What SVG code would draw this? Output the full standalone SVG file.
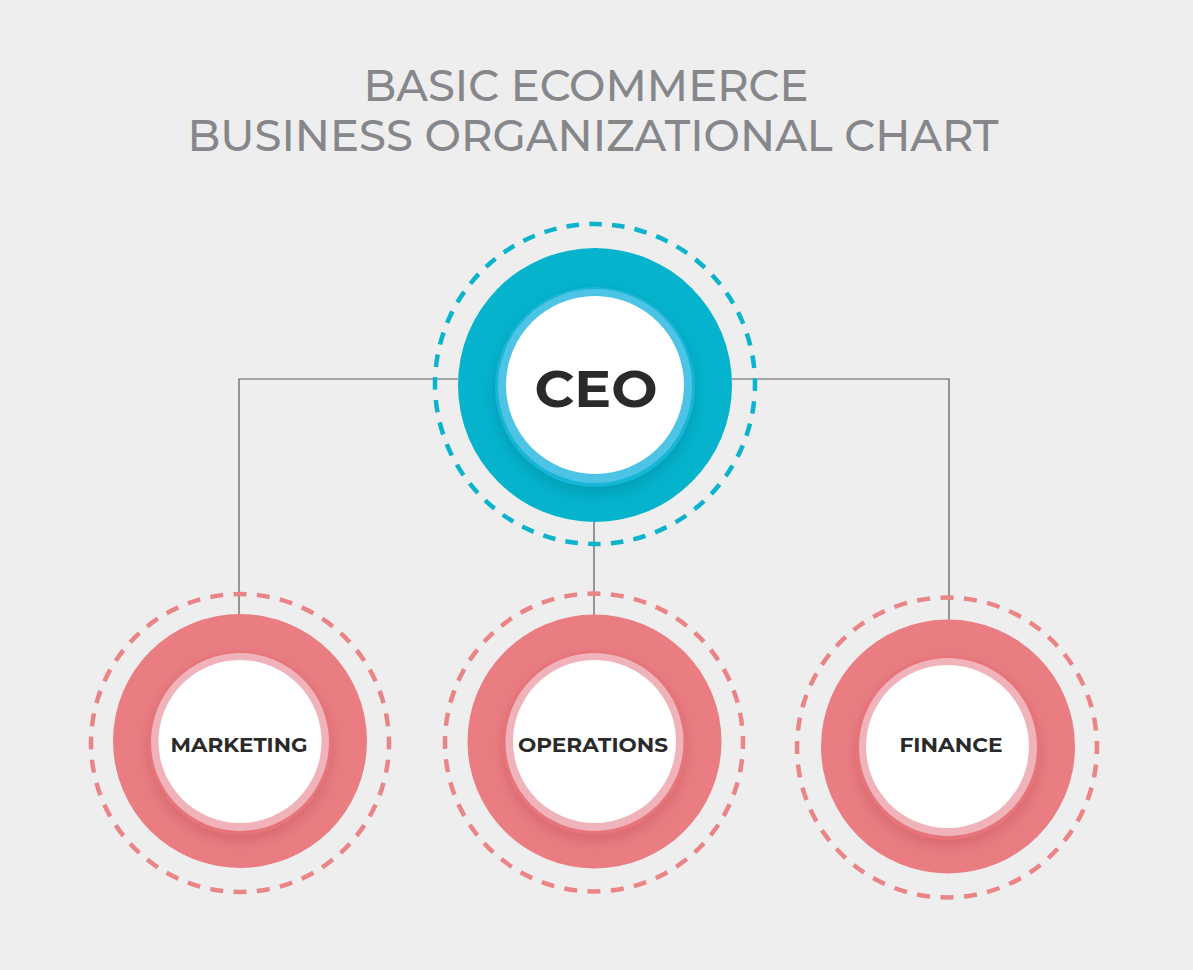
<svg xmlns="http://www.w3.org/2000/svg" width="1193" height="970" viewBox="0 0 1193 970">
<defs>
<style>
.title{font-family:"Montserrat","Open Sans","Liberation Sans",sans-serif;font-size:45px;font-weight:500;fill:#86878b;text-anchor:middle;}
.lbl{font-family:"Montserrat","Open Sans","Liberation Sans",sans-serif;font-weight:700;fill:#2a2a2a;text-anchor:middle;}
.conn{stroke:#5a5a5a;stroke-width:1.2;fill:none;}
.dashT{fill:none;stroke:#0cb3cc;stroke-width:4.5;}
.dashP{fill:none;stroke:#ea8486;stroke-width:4.5;}
</style>
<filter id="sh" x="-30%" y="-30%" width="160%" height="160%">
<feGaussianBlur stdDeviation="6"/>
</filter>
</defs>
<rect width="1193" height="970" fill="#eeeeee"/>
<g id="title">
<text class="title" x="586" y="101" textLength="445" lengthAdjust="spacingAndGlyphs">BASIC ECOMMERCE</text>
<text class="title" x="593" y="151" textLength="811" lengthAdjust="spacingAndGlyphs">BUSINESS ORGANIZATIONAL CHART</text>
</g>
<g id="connectors">
<path class="conn" d="M458 379 H239 V615"/>
<path class="conn" d="M732 379 H949 V620"/>
<path class="conn" d="M594 522 V615"/>
</g>
<g id="ceo">
<circle class="dashT" cx="595" cy="384" r="160" pathLength="360" stroke-dasharray="4.5 3.68" stroke-dashoffset="2"/>
<circle cx="595" cy="385" r="137" fill="#05b3cc"/>
<circle cx="595" cy="393" r="102" fill="#0091a8" opacity="0.55" filter="url(#sh)"/>
<circle cx="595" cy="387" r="100" fill="#18b6d6"/>
<circle cx="595" cy="386" r="97" fill="#4dc4e6"/>
<circle cx="595" cy="385" r="89" fill="#ffffff"/>
<text class="lbl" x="596" y="407" font-size="51" textLength="123" lengthAdjust="spacingAndGlyphs">CEO</text>
</g>
<g id="marketing">
<circle class="dashP" cx="240" cy="743" r="149" pathLength="360" stroke-dasharray="5 4" stroke-dashoffset="2.5"/>
<circle cx="240" cy="741" r="127" fill="#e97d82"/>
<circle cx="240" cy="749" r="93" fill="#c95a60" opacity="0.5" filter="url(#sh)"/>
<circle cx="240" cy="743" r="92" fill="#e6747a"/>
<circle cx="240" cy="742" r="89" fill="#f0b3ba"/>
<circle cx="240" cy="741.5" r="81.5" fill="#ffffff"/>
<text class="lbl" x="239" y="752" font-size="20" textLength="137" lengthAdjust="spacingAndGlyphs">MARKETING</text>
</g>
<g id="operations">
<circle class="dashP" cx="594" cy="742.5" r="149" pathLength="360" stroke-dasharray="5 4" stroke-dashoffset="2.5"/>
<circle cx="594.5" cy="741.5" r="127" fill="#e97d82"/>
<circle cx="594.5" cy="749" r="93" fill="#c95a60" opacity="0.5" filter="url(#sh)"/>
<circle cx="594.5" cy="743" r="92" fill="#e6747a"/>
<circle cx="594.5" cy="742" r="89" fill="#f0b3ba"/>
<circle cx="594.5" cy="741.5" r="81.5" fill="#ffffff"/>
<text class="lbl" x="593" y="752" font-size="20" textLength="150" lengthAdjust="spacingAndGlyphs">OPERATIONS</text>
</g>
<g id="finance">
<circle class="dashP" cx="947" cy="747.5" r="150" pathLength="360" stroke-dasharray="5 4" stroke-dashoffset="2.5"/>
<circle cx="948" cy="746.5" r="127" fill="#e97d82"/>
<circle cx="948" cy="754" r="93" fill="#c95a60" opacity="0.5" filter="url(#sh)"/>
<circle cx="948" cy="748" r="92" fill="#e6747a"/>
<circle cx="948" cy="747" r="89" fill="#f0b3ba"/>
<circle cx="947.5" cy="746.5" r="81.5" fill="#ffffff"/>
<text class="lbl" x="951" y="752" font-size="20" textLength="103" lengthAdjust="spacingAndGlyphs">FINANCE</text>
</g>
</svg>
